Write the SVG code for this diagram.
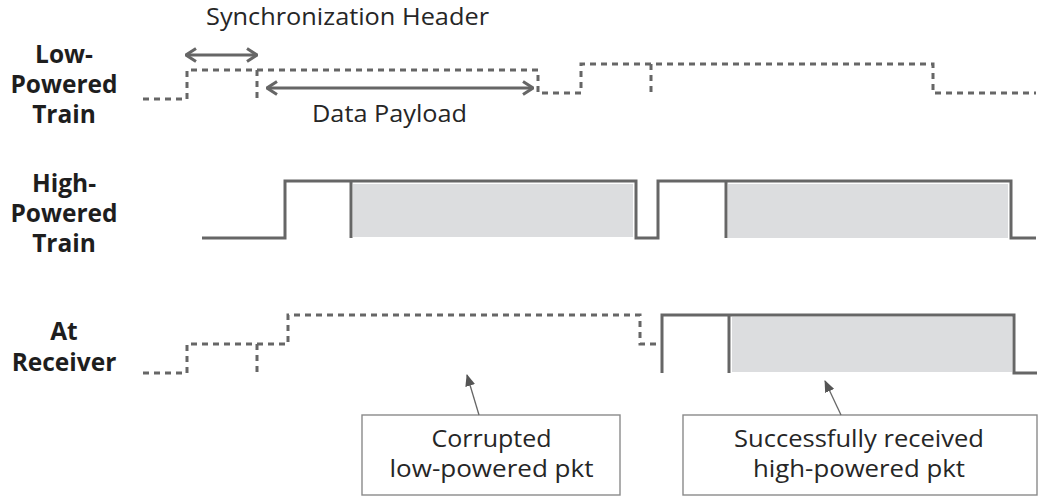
<svg xmlns="http://www.w3.org/2000/svg" width="1040" height="497" viewBox="0 0 1040 497">
<style>
.lbl{font-family:"Open Sans","Liberation Sans",sans-serif;font-weight:bold;font-size:24.5px;fill:#1e1e1e;text-anchor:middle}
.txt{font-family:"Open Sans","Liberation Sans",sans-serif;font-size:24px;fill:#262626;text-anchor:middle}
.sig{fill:none;stroke:#666;stroke-width:3;stroke-linejoin:miter}
.dash{fill:none;stroke:#666;stroke-width:3;stroke-dasharray:6 5}
.pkt{fill:#dcdddf;stroke:none}
.box{fill:#fff;stroke:#8a8a8a;stroke-width:1.4}
.dim{fill:none;stroke:#666;stroke-width:3;marker-start:url(#chev);marker-end:url(#chev)}
.call{fill:none;stroke:#666;stroke-width:1.3;marker-end:url(#tri)}
</style>
<defs>
<marker id="chev" viewBox="0 0 12 16" refX="11" refY="8" markerWidth="12" markerHeight="16" markerUnits="userSpaceOnUse" orient="auto-start-reverse">
<path d="M1,1.5 L11,8 L1,14.5" fill="none" stroke="#666" stroke-width="3"/>
</marker>
<marker id="tri" viewBox="0 0 12 10" refX="11" refY="5" markerWidth="12" markerHeight="10" markerUnits="userSpaceOnUse" orient="auto">
<path d="M0,0 L12,5 L0,10 Z" fill="#555"/>
</marker>
</defs>

<g id="label-low">
<text class="lbl" x="64" y="63">Low-</text>
<text class="lbl" x="64" y="93">Powered</text>
<text class="lbl" x="64" y="123">Train</text>
</g>
<g id="label-high">
<text class="lbl" x="64" y="192">High-</text>
<text class="lbl" x="64" y="222">Powered</text>
<text class="lbl" x="64" y="252">Train</text>
</g>
<g id="label-rx">
<text class="lbl" x="64" y="340">At</text>
<text class="lbl" x="64" y="371">Receiver</text>
</g>

<g id="sync-header-label">
<text class="txt" x="347.5" y="25" textLength="283" lengthAdjust="spacingAndGlyphs">Synchronization Header</text>
</g>
<g id="data-payload-label">
<text class="txt" x="389.5" y="122" textLength="155" lengthAdjust="spacingAndGlyphs">Data Payload</text>
</g>

<g id="low-powered-train">
<path class="dash" d="M143,99 H187 V70 H538 V93 H581 V64 H933 V93 H1036"/>
<path class="dash" d="M257,70 V99"/>
<path class="dash" d="M651,64 V93"/>
</g>

<g id="high-powered-train">
<rect class="pkt" x="353" y="184" width="280" height="53"/>
<rect class="pkt" x="728" y="184" width="280" height="54"/>
<path class="sig" d="M202,238 H285 V181 H636 V238 H658 V181 H1011 V238 H1036"/>
<path class="sig" d="M351,181 V238"/>
<path class="sig" d="M726,181 V238"/>
</g>

<g id="at-receiver">
<rect class="pkt" x="732" y="317" width="280" height="55"/>
<path class="dash" d="M143,373 H187 V344 H288 V315 H640 V344 H656"/>
<path class="dash" d="M257,344 V373"/>
<path class="sig" d="M662,373 V315 H1014 V373 H1037"/>
<path class="sig" d="M729,315 V373"/>
</g>

<g id="box-corrupted">
<rect class="box" x="362" y="415" width="258" height="80"/>
<text class="txt" x="491.5" y="447" textLength="120" lengthAdjust="spacingAndGlyphs">Corrupted</text>
<text class="txt" x="491.5" y="477" textLength="204" lengthAdjust="spacingAndGlyphs">low-powered pkt</text>
</g>
<g id="box-success">
<rect class="box" x="683" y="415" width="354" height="80"/>
<text class="txt" x="859" y="447" textLength="250" lengthAdjust="spacingAndGlyphs">Successfully received</text>
<text class="txt" x="859" y="477" textLength="212" lengthAdjust="spacingAndGlyphs">high-powered pkt</text>
</g>

<g id="connectors">
<path class="dim" d="M186,55 H257"/>
<path class="dim" d="M267,88 H533"/>
<path class="call" d="M479,415 L467,375"/>
<path class="call" d="M841,415 L825,381"/>
</g>
</svg>
